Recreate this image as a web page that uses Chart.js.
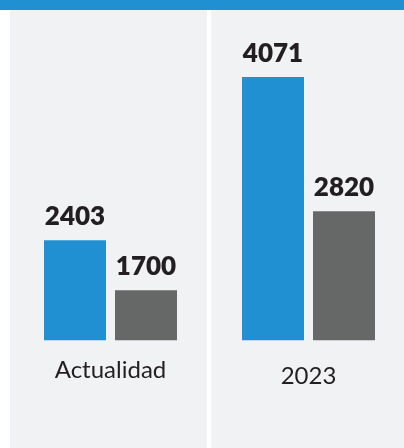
<!DOCTYPE html>
<html>
<head>
<meta charset="utf-8">
<script src="https://cdn.jsdelivr.net/npm/chart.js@4/dist/chart.umd.min.js"></script>
<style>
  html, body { margin: 0; padding: 0; background: #ffffff; }
  #wrap { position: relative; width: 404px; height: 448px; overflow: hidden; background: #ffffff; }
  #band { position: absolute; left: 0; top: 0; width: 404px; height: 10px; background: #2190d3; }
  .panel { position: absolute; top: 10px; height: 438px; background: #f1f2f4; }
  #p1 { left: 10px; width: 197px; }
  #p2 { left: 211px; width: 193px; }
  canvas { display: block; }
</style>
</head>
<body>
<div id="wrap">
  <div id="band"></div>
  <div class="panel" id="p1"><canvas id="c1" width="197" height="438"></canvas></div>
  <div class="panel" id="p2"><canvas id="c2" width="193" height="438"></canvas></div>
</div>
<script>
const categories = ['Actualidad', '2023'];
const seriesBlue = [2403, 4071];
const seriesGray = [1700, 2820];

const BLUE = '#2190d3';
const GRAY = '#666867';
const TEXT = '#231f20';

const valueLabels = {
  id: 'valueLabels',
  afterDatasetsDraw(chart) {
    const ctx = chart.ctx;
    ctx.save();
    ctx.font = '800 26px Lato';
    ctx.fillStyle = TEXT;
    ctx.textAlign = 'center';
    ctx.textBaseline = 'alphabetic';
    chart.data.datasets.forEach((ds, di) => {
      const meta = chart.getDatasetMeta(di);
      meta.data.forEach((bar, i) => {
        ctx.fillText(String(ds.data[i]), bar.x, bar.y - 15);
      });
    });
    ctx.restore();
  }
};

function makeChart(id, idx, pad, yMin, yMax, tickPad) {
  return new Chart(document.getElementById(id), {
    type: 'bar',
    data: {
      labels: [categories[idx]],
      datasets: [
        { data: [seriesBlue[idx]], backgroundColor: BLUE, borderWidth: 0 },
        { data: [seriesGray[idx]], backgroundColor: GRAY, borderWidth: 0 }
      ]
    },
    options: {
      responsive: false,
      animation: false,
      devicePixelRatio: 1,
      layout: { padding: pad },
      datasets: { bar: { categoryPercentage: 1, barPercentage: 62 / 71 } },
      plugins: { legend: { display: false }, tooltip: { enabled: false } },
      scales: {
        x: {
          grid: { display: false, drawTicks: false },
          border: { display: false },
          ticks: { color: TEXT, padding: tickPad, font: { family: 'Lato', size: 24, weight: '400' } }
        },
        y: { display: false, min: yMin, max: yMax }
      }
    },
    plugins: [valueLabels]
  });
}

makeChart('c1', 0, { left: 29.5, right: 25.5, top: 10, bottom: 47 }, 997, 5496, 16);
makeChart('c2', 1, { left: 26.5, right: 24.5, top: 10, bottom: 35 }, 1616, 4603, 22);
</script>
</body>
</html>
